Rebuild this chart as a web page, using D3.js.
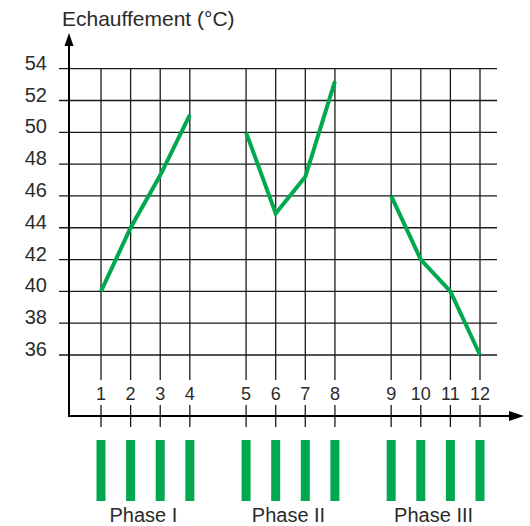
<!DOCTYPE html>
<html>
<head>
<meta charset="utf-8">
<script src="https://cdn.jsdelivr.net/npm/d3@7"></script>
<style>
  body { margin: 0; background: #fff; }
  text { font-family: 'Liberation Sans', Arial, sans-serif; fill: #2b2b2b; }
</style>
</head>
<body>
<div id="chart"></div>
<script>
// measurements, one point per interval, grouped by phase
const phases = ['Phase I', 'Phase II', 'Phase III'];
const steps = [1, 2, 3, 4, 5, 6, 7, 8, 9, 10, 11, 12];
const stepPhase = [0, 0, 0, 0, 1, 1, 1, 1, 2, 2, 2, 2];
const temps = [40, 44, 47.3, 51.1, 50, 44.9, 47.2, 53.2, 46, 42, 40, 36];
const yTicks = [36, 38, 40, 42, 44, 46, 48, 50, 52, 54];

const width = 530;
const height = 526;
const green = '#00a84f';

// gap between phases is ~0.9 of a step
const slot = i => steps[i] + stepPhase[i] * 0.9;
const phaseIdx = k => steps.map((s, i) => i).filter(i => stepPhase[i] === k);

const xScale = d3.scaleLinear().domain([1, 13.8]).range([101, 480]);
const yScale = d3.scaleLinear().domain([36, 54]).range([355, 68.7]);

const svg = d3.select('#chart').append('svg')
  .attr('width', width)
  .attr('height', height);

const axisX = 69;
const axisY = 416;

// horizontal grid
svg.append('g')
  .selectAll('line')
  .data(yTicks)
  .enter().append('line')
  .attr('x1', 59)
  .attr('x2', 497)
  .attr('y1', d => yScale(d))
  .attr('y2', d => yScale(d))
  .attr('stroke', '#1a1a1a')
  .attr('stroke-width', 1.3);

// vertical grid, broken where the step numbers sit
const vgrid = svg.append('g')
  .selectAll('g')
  .data(steps)
  .enter().append('g');
vgrid.append('line')
  .attr('x1', (d, i) => xScale(slot(i)))
  .attr('x2', (d, i) => xScale(slot(i)))
  .attr('y1', yScale(54))
  .attr('y2', 380)
  .attr('stroke', '#1a1a1a')
  .attr('stroke-width', 1.3);
vgrid.append('line')
  .attr('x1', (d, i) => xScale(slot(i)))
  .attr('x2', (d, i) => xScale(slot(i)))
  .attr('y1', 405)
  .attr('y2', 427)
  .attr('stroke', '#1a1a1a')
  .attr('stroke-width', 1.3);

// axes with arrows
svg.append('line')
  .attr('x1', axisX).attr('x2', axisX)
  .attr('y1', axisY + 1).attr('y2', 42)
  .attr('stroke', '#000').attr('stroke-width', 2);
svg.append('path')
  .attr('d', `M${axisX},33 L${axisX - 4.5},46 L${axisX + 4.5},46 Z`)
  .attr('fill', '#000');

svg.append('line')
  .attr('x1', axisX - 1).attr('x2', 512)
  .attr('y1', axisY).attr('y2', axisY)
  .attr('stroke', '#000').attr('stroke-width', 2);
svg.append('path')
  .attr('d', `M524,${axisY} L509,${axisY - 5} L509,${axisY + 5} Z`)
  .attr('fill', '#000');

// y labels
svg.append('g')
  .selectAll('text')
  .data(yTicks)
  .enter().append('text')
  .attr('x', 47)
  .attr('y', d => yScale(d) + 1)
  .attr('text-anchor', 'end')
  .attr('font-size', 20)
  .text(d => d);

// x labels
svg.append('g')
  .selectAll('text')
  .data(steps)
  .enter().append('text')
  .attr('x', (d, i) => xScale(slot(i)))
  .attr('y', 400)
  .attr('text-anchor', 'middle')
  .attr('font-size', 18)
  .text(d => d);

// title
svg.append('text')
  .attr('x', 62)
  .attr('y', 26)
  .attr('font-size', 21)
  .text('Echauffement (°C)');

// temperature curve, one segment per phase
const line = d3.line()
  .x(d => xScale(slot(d)))
  .y(d => yScale(temps[d]));

phases.forEach((p, k) => {
  svg.append('path')
    .attr('d', line(phaseIdx(k)))
    .attr('fill', 'none')
    .attr('stroke', green)
    .attr('stroke-width', 4)
    .attr('stroke-linejoin', 'miter');
});

// phase bars
svg.append('g')
  .selectAll('rect')
  .data(steps)
  .enter().append('rect')
  .attr('x', (d, i) => xScale(slot(i)) - 4.5)
  .attr('y', 440)
  .attr('width', 9)
  .attr('height', 61)
  .attr('fill', green);

// phase labels
svg.append('g')
  .selectAll('text')
  .data(phases)
  .enter().append('text')
  .attr('x', (d, k) => {
    const idx = phaseIdx(k);
    return (xScale(slot(idx[0])) + xScale(slot(idx[idx.length - 1]))) / 2 - 2;
  })
  .attr('y', 522)
  .attr('text-anchor', 'middle')
  .attr('font-size', 20)
  .text(d => d);
</script>
</body>
</html>
